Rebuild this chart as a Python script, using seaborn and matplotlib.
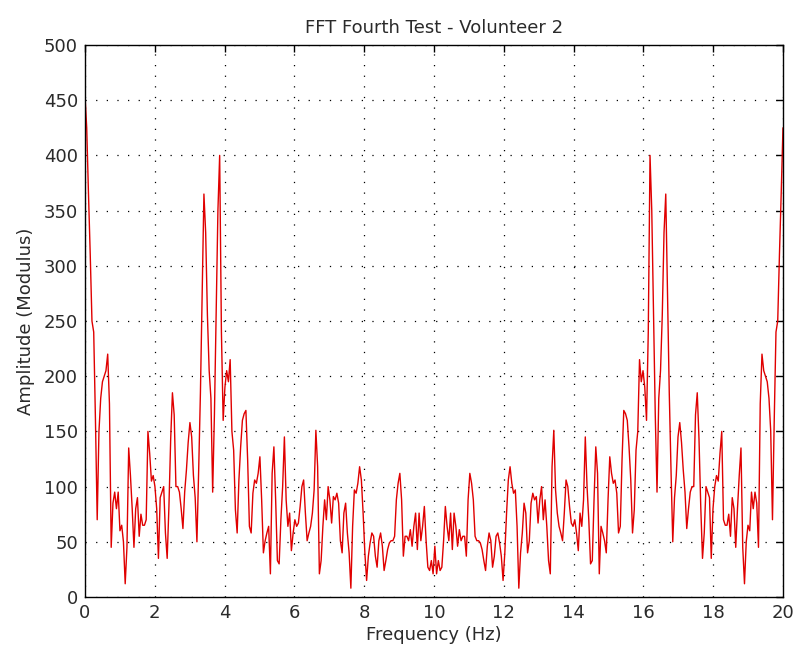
import numpy as np
import pandas as pd
import matplotlib
matplotlib.use("Agg")
import matplotlib.pyplot as plt
import seaborn as sns

# Half spectrum (0 .. 10 Hz, step 0.05 Hz)
half_amplitude = [
    455, 425, 366, 311, 250, 240, 160, 70, 150, 180,
    195, 200, 205, 220, 175, 45, 85, 95, 80, 95,
    60, 65, 50, 12, 45, 135, 110, 80, 45, 80,
    90, 55, 75, 65, 65, 70, 150, 130, 105, 110,
    100, 80, 35, 90, 95, 100, 58, 35, 82, 143,
    185, 165, 100, 100, 95, 80, 62, 95, 115, 140,
    158, 145, 110, 90, 50, 115, 185, 275, 365, 330,
    255, 205, 180, 95, 165, 255, 350, 400, 240, 160,
    190, 205, 195, 215, 150, 133, 79, 58, 106, 136,
    160, 166, 169, 124, 64, 58, 94, 106, 103, 112,
    127, 88, 40, 51, 58, 64, 21, 112, 136, 88,
    33, 30, 70, 100, 145, 88, 64, 76, 42, 58,
    70, 64, 67, 82, 100, 106, 76, 51, 58, 64,
    76, 97, 151, 118, 21, 33, 64, 88, 70, 100,
    88, 67, 91, 88, 94, 85, 51, 40, 76, 85,
    58, 40, 8, 64, 97, 94, 103, 118, 106, 76,
    40, 15, 37, 49, 58, 55, 37, 27, 51, 58,
    46, 24, 33, 43, 49, 51, 51, 55, 88, 103,
    112, 88, 37, 55, 55, 51, 61, 46, 64, 76,
    43, 76, 51, 64, 82, 51, 27, 24, 33, 21,
    46,
]
# FFT modulus of a real signal: bin k mirrors bin N-k (DC has no partner)
amplitude = half_amplitude + half_amplitude[-2:0:-1]
freq_max = 20.0
frequency = np.linspace(0, freq_max, len(amplitude))

x_ticks = [0, 2, 4, 6, 8, 10, 12, 14, 16, 18, 20]
y_ticks = [0, 50, 100, 150, 200, 250, 300, 350, 400, 450, 500]

title = "FFT Fourth Test - Volunteer 2"
x_label = "Frequency (Hz)"
y_label = "Amplitude (Modulus)"

df = pd.DataFrame({"Frequency": frequency, "Amplitude": amplitude})

sns.set_style("white")
plt.rcParams["font.family"] = ["DejaVu Sans"]

fig = plt.figure(figsize=(7.97, 6.58), dpi=100, facecolor="white")
ax = fig.add_axes([0.1066, 0.0927, 0.8758, 0.8389])
sns.lineplot(data=df, x="Frequency", y="Amplitude", color="#e00000",
             linewidth=1.0, ax=ax)

ax.set_xlim(0, 20)
ax.set_ylim(0, 500)
ax.set_xticks(x_ticks)
ax.set_yticks(y_ticks)
ax.set_xticklabels([str(t) for t in x_ticks], fontsize=13)
ax.set_yticklabels([str(t) for t in y_ticks], fontsize=13)
ax.tick_params(direction="in", length=5, width=1, top=True, right=True,
               colors="black", labelcolor="#2a2a2a", pad=5)
ax.grid(True, color="black", linestyle=(0, (1, 7.5)), linewidth=0.9)
for s in ax.spines.values():
    s.set_visible(True)
    s.set_color("black")
    s.set_linewidth(1.0)

ax.set_title(title, fontsize=13, pad=9, color="#2a2a2a")
ax.set_xlabel(x_label, fontsize=13, labelpad=3, color="#2a2a2a")
ax.set_ylabel(y_label, fontsize=13, labelpad=6, color="#2a2a2a")

fig.savefig("out.png", dpi=100, facecolor="white")
